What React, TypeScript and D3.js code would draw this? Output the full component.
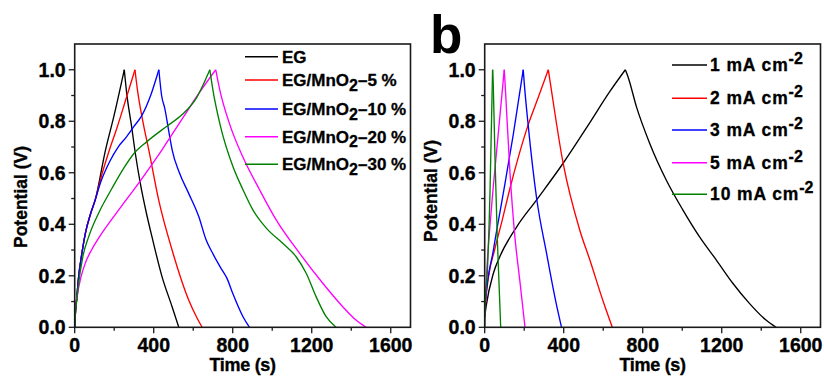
import React from "react";
import * as d3 from "d3";

type Pt = [number, number];

// ---------- Panel (a) data: time (s), potential (V) ----------
const seriesANames = ["EG", "EG/MnO2-5 %", "EG/MnO2-10 %", "EG/MnO2-20 %", "EG/MnO2-30 %"];
const seriesAColors = ["#000000", "#ff0000", "#0000ff", "#ff00ff", "#008000"];

const eg: Pt[] = [[0,0],[4,0.06],[10,0.11],[20,0.197],[35,0.28],[54,0.365],[80,0.44],[104,0.495],[155,0.685],[200,0.825],[251,1.0],
  [263,0.91],[288,0.78],[308,0.67],[332,0.56],[364,0.44],[391,0.352],[442,0.197],[493,0.08],[527,0]];
const egMn5: Pt[] = [[0,0],[4,0.06],[10,0.11],[20,0.197],[35,0.28],[54,0.365],[80,0.44],[104,0.495],[140,0.6],[172,0.68],[212,0.77],[251,0.865],[305,1.0],
  [318,0.92],[345,0.8],[375,0.689],[425,0.495],[493,0.3],[577,0.106],[620,0.035],[645,0]];
const egMn10: Pt[] = [[0,0],[4,0.06],[10,0.11],[20,0.197],[35,0.28],[54,0.365],[80,0.44],[104,0.495],[130,0.56],[178,0.645],[220,0.7],[263,0.74],[300,0.78],[338,0.82],[389,0.91],[426,1.0],
  [440,0.9],[456,0.85],[481,0.74],[493,0.69],[530,0.6],[577,0.52],[628,0.43],[665,0.34],[700,0.285],[740,0.23],[771,0.19],[801,0.13],[852,0.041],[885,0]];
const egMn20: Pt[] = [[0,0.03],[4,0.08],[12,0.12],[30,0.19],[54,0.25],[85,0.3],[121,0.346],[223,0.456],[324,0.56],[442,0.689],[549,0.815],[630,0.91],[714,1.0],
  [735,0.92],[784,0.79],[852,0.66],[936,0.534],[1020,0.417],[1138,0.288],[1256,0.171],[1357,0.08],[1424,0.028],[1475,0]];
const egMn30: Pt[] = [[0,0],[4,0.06],[10,0.1],[20,0.171],[40,0.27],[71,0.352],[121,0.443],[189,0.54],[250,0.62],[300,0.675],[364,0.72],[465,0.78],[544,0.826],[616,0.89],[684,1.0],
  [700,0.92],[735,0.79],[801,0.624],[852,0.534],[902,0.456],[970,0.385],[1053,0.326],[1121,0.274],[1172,0.21],[1222,0.119],[1273,0.041],[1323,0]];

// ---------- Panel (b) data ----------
const seriesBNames = ["1", "2", "3", "5", "10"];
const seriesBColors = ["#000000", "#ff0000", "#0000ff", "#ff00ff", "#008000"];

const cd1: Pt[] = [[0,0.04],[7,0.08],[44,0.21],[77,0.275],[162,0.39],[263,0.495],[397,0.637],[520,0.78],[633,0.915],[712,1.0],
  [725,0.974],[768,0.857],[835,0.715],[919,0.572],[1003,0.456],[1087,0.352],[1172,0.262],[1256,0.171],[1340,0.093],[1424,0.028],[1475,0]];
const cd2: Pt[] = [[0,0.04],[5,0.1],[20,0.2],[50,0.3],[90,0.42],[128,0.54],[170,0.66],[220,0.786],[270,0.89],[322,1.0],
  [330,0.96],[397,0.637],[481,0.378],[532,0.262],[600,0.1],[646,0]];
const cd3: Pt[] = [[0,0.04],[4,0.1],[44,0.3],[94,0.52],[145,0.75],[195,1.0],
  [200,0.95],[220,0.786],[263,0.5],[313,0.288],[360,0.1],[389,0]];
const cd5: Pt[] = [[0,0.04],[10,0.21],[35,0.47],[61,0.69],[99,1.0],
  [103,0.95],[128,0.6],[153,0.35],[178,0.18],[204,0]];
const cd10: Pt[] = [[0,0],[3,0.1],[13,0.21],[27,0.53],[40,1.0],
  [43,0.95],[52,0.66],[64,0.34],[81,0]];

const seriesA = [eg, egMn5, egMn10, egMn20, egMn30];
const seriesB = [cd1, cd2, cd3, cd5, cd10];

const xMajor = [0, 400, 800, 1200, 1600];
const xMinor = [200, 600, 1000, 1400];
const yMajor = [0, 0.2, 0.4, 0.6, 0.8, 1.0];
const yMinor = [0.1, 0.3, 0.5, 0.7, 0.9];

const FONT = "'Liberation Sans', Arial, Helvetica, sans-serif";
const AX = "#1a1a1a";

function splitAtPeak(d: Pt[]): [Pt[], Pt[]] {
  let idx = 0;
  d.forEach((p, i) => { if (p[1] > d[idx][1]) idx = i; });
  return [d.slice(0, idx + 1), d.slice(idx)];
}

function Panel({ ox, series, colors, legend, yLabelY }: { ox: number; series: Pt[][]; colors: string[]; legend: React.ReactNode; yLabelY: number }) {
  const x = d3.scaleLinear().domain([0, 1700]).range([ox + 74.7, ox + 410.5]);
  const y = d3.scaleLinear().domain([0, 1.1]).range([327.3, 44]);
  const line = d3.line<Pt>().x(d => x(d[0])).y(d => y(d[1])).curve(d3.curveMonotoneX);
  const x0 = x(0), x1 = x(1700), y0 = y(0), y1 = y(1.1);
  const bold = { fontFamily: FONT, fontWeight: "bold" as const, stroke: "#000", strokeWidth: 0.35 };
  return (
    <g>
      <defs>
        <clipPath id={`clip${ox}`}><rect x={x0} y={y1} width={x1 - x0} height={y0 - y1} /></clipPath>
      </defs>
      <g clipPath={`url(#clip${ox})`}>
        {series.map((s, i) => {
          const [c, dsc] = splitAtPeak(s);
          return (
            <g key={i}>
              <path d={line(c) || ""} fill="none" stroke={colors[i]} strokeWidth={1.35} />
              <path d={line(dsc) || ""} fill="none" stroke={colors[i]} strokeWidth={1.35} />
            </g>
          );
        })}
      </g>
      <rect x={x0} y={y1} width={x1 - x0} height={y0 - y1} fill="none" stroke={AX} strokeWidth={1.6} />
      {xMajor.map(t => (
        <g key={"xM" + t}>
          <line x1={x(t)} x2={x(t)} y1={y0} y2={y0 + 6} stroke={AX} strokeWidth={1.3} />
          <text x={x(t)} y={352} textAnchor="middle" fontSize={19.5} {...bold}>{t}</text>
        </g>
      ))}
      {xMinor.map(t => (
        <line key={"xm" + t} x1={x(t)} x2={x(t)} y1={y0} y2={y0 + 3.5} stroke={AX} strokeWidth={1.3} />
      ))}
      {yMajor.map(t => (
        <g key={"yM" + t}>
          <line x1={x0 - 6} x2={x0} y1={y(t)} y2={y(t)} stroke={AX} strokeWidth={1.3} />
          <text x={x0 - 9} y={y(t) + 7} textAnchor="end" fontSize={19.5} {...bold}>{t.toFixed(1)}</text>
        </g>
      ))}
      {yMinor.map(t => (
        <line key={"ym" + t} x1={x0 - 3.5} x2={x0} y1={y(t)} y2={y(t)} stroke={AX} strokeWidth={1.3} />
      ))}
      <text x={(x0 + x1) / 2} y={371} textAnchor="middle" fontSize={18} letterSpacing={-0.3} {...bold}>Time (s)</text>
      <text transform={`translate(${ox + 27},${yLabelY}) rotate(-90)`} textAnchor="middle" fontSize={17.5} {...bold}>Potential (V)</text>
      {legend}
    </g>
  );
}

export default function App() {
  const legA = [56.7, 80, 109, 136.7, 164.3];
  const legB = [65, 98.3, 130, 162.7, 194.3];
  const legendA = (
    <g fontFamily={FONT} fontWeight="bold" fontSize={17} stroke="none">
      {seriesANames.map((n, i) => {
        const yy = legA[i];
        const m = n.match(/^EG\/MnO2-(.*)$/);
        return (
          <g key={n}>
            <line x1={245} x2={278} y1={yy} y2={yy} stroke={seriesAColors[i]} strokeWidth={1.5} />
            <text x={282} y={yy + 6} stroke="#000" strokeWidth={0.3}>
              {m ? (<>
                <tspan>EG/MnO</tspan>
                <tspan dy={4.5} fontSize={16}>2</tspan>
                <tspan dy={-4.5}>{"\u2013" + m[1]}</tspan>
              </>) : n}
            </text>
          </g>
        );
      })}
    </g>
  );
  const legendB = (
    <g fontFamily={FONT} fontWeight="bold" fontSize={17.5}>
      {seriesBNames.map((n, i) => {
        const yy = legB[i];
        return (
          <g key={n}>
            <line x1={672} x2={707} y1={yy} y2={yy} stroke={seriesBColors[i]} strokeWidth={1.5} />
            <text x={710} y={yy + 6} letterSpacing={0.9} stroke="#000" strokeWidth={0.3}>
              <tspan>{n + " mA cm"}</tspan>
              <tspan dy={-7} fontSize={16} letterSpacing={0}>-2</tspan>
            </text>
          </g>
        );
      })}
    </g>
  );
  return (
    <svg width={824} height={379} style={{ position: "absolute", left: 0, top: 0, background: "#fff" }}>
      <rect width={824} height={379} fill="#fff" />
      <Panel ox={0} series={seriesA} colors={seriesAColors} legend={legendA} yLabelY={197} />
      <Panel ox={410} series={seriesB} colors={seriesBColors} legend={legendB} yLabelY={191} />
      <text x={430} y={53} fontFamily={FONT} fontWeight="bold" fontSize={53}>b</text>
    </svg>
  );
}
